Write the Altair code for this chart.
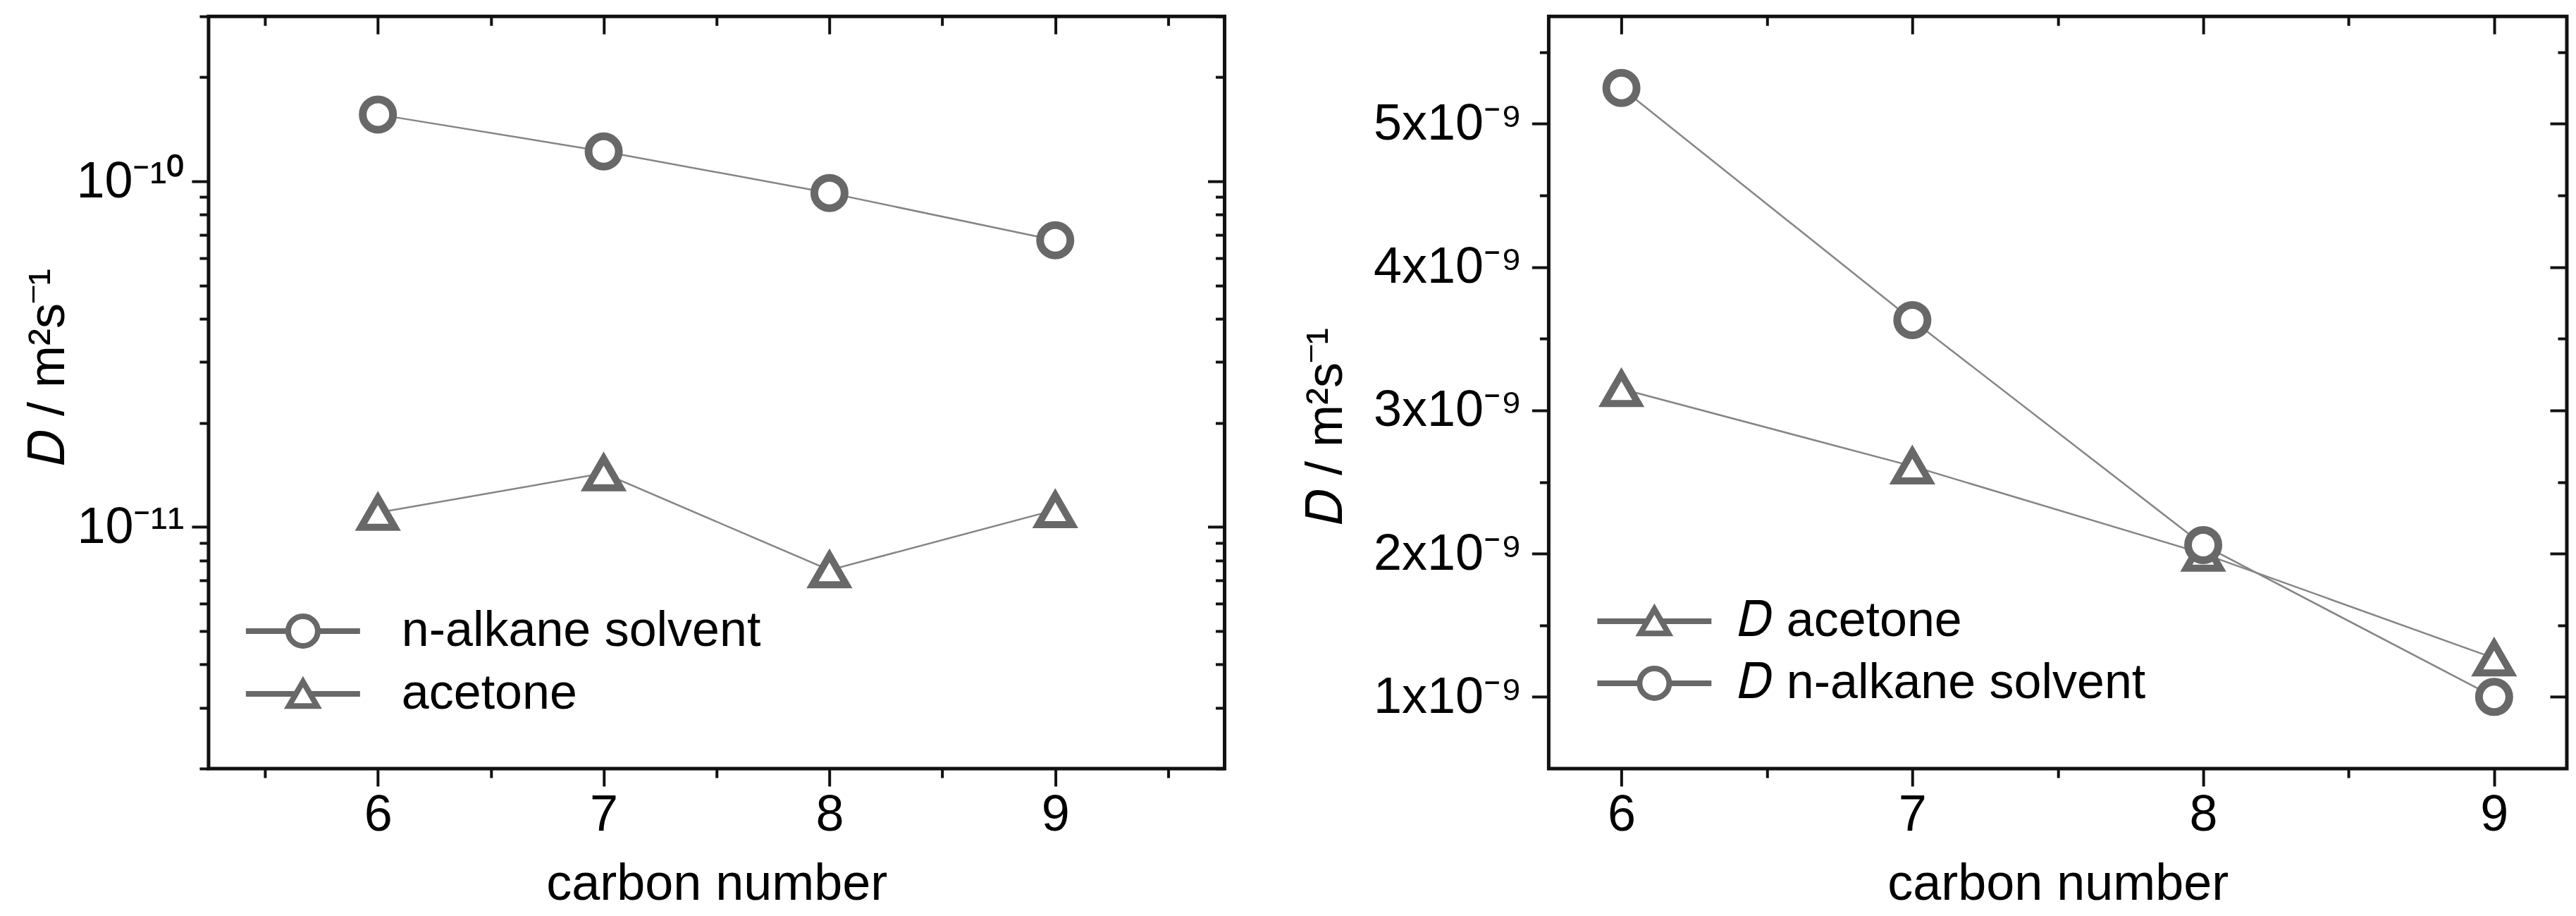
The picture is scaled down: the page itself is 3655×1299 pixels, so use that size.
import altair as alt
import pandas as pd

# ---------------- data ----------------
carbon = [6, 7, 8, 9]

left_alkane = [1.56e-10, 1.22e-10, 9.25e-11, 6.75e-11]
left_acetone = [1.10e-11, 1.43e-11, 7.5e-12, 1.12e-11]

right_acetone = [3.15e-9, 2.61e-9, 2.00e-9, 1.27e-9]
right_alkane = [5.25e-9, 3.63e-9, 2.06e-9, 1.00e-9]

left_names = ["n-alkane solvent", "acetone"]
right_names = ["𝐷 acetone", "𝐷 n-alkane solvent"]

x_major = [6, 7, 8, 9]
x_labels = ["6", "7", "8", "9"]
left_x_ticks = [5.5, 6, 6.5, 7, 7.5, 8, 8.5, 9, 9.5]
right_x_ticks = [6, 6.5, 7, 7.5, 8, 8.5, 9]

left_y_ticks = [2e-12, 3e-12, 4e-12, 5e-12, 6e-12, 7e-12, 8e-12, 9e-12,
                1e-11, 2e-11, 3e-11, 4e-11, 5e-11, 6e-11, 7e-11, 8e-11, 9e-11,
                1e-10, 2e-10, 3e-10]
left_y_major = [1e-11, 1e-10]
left_y_labels = ["10⁻¹¹", "10⁻¹⁰"]

right_y_ticks = [1e-9, 1.5e-9, 2e-9, 2.5e-9, 3e-9, 3.5e-9, 4e-9, 4.5e-9, 5e-9, 5.5e-9]
right_y_major = [1e-9, 2e-9, 3e-9, 4e-9, 5e-9]
right_y_labels = ["1x10⁻⁹", "2x10⁻⁹", "3x10⁻⁹", "4x10⁻⁹", "5x10⁻⁹"]

x_title = "carbon number"
y_title = "𝐷   /   m²s⁻¹"

# ---------------- styling ----------------
FONT = "Liberation Sans"
INK = "#111111"
MARK = "#686868"
LINE = "#858585"
FS = 72

# legend symbols: line + marker (unit = sqrt(symbolSize)/2 px)
PATH_CIRCLE = ("M-3.24,0L-0.84,0M0.84,0L3.24,0"
               "M0.84,0A0.84,0.84,0,1,1,-0.84,0A0.84,0.84,0,1,1,0.84,0Z")
PATH_TRI = ("M-3.24,0L-0.4,0M0.4,0L3.24,0"
            "M0,-0.69L-0.8,0.69L0.8,0.69Z")

X_TEST = "abs(datum.value - round(datum.value)) < 0.001"
LOGY_TEST = "abs(log(datum.value)/LN10 - round(log(datum.value)/LN10)) < 0.001"
LINY_TEST = "abs(datum.value*1e9 - round(datum.value*1e9)) < 0.001"


def label_expr(values, labels):
    e = ""
    for v, lab in zip(values, labels):
        e += f"abs(datum.value - {v!r}) < {abs(v) * 1e-6!r} ? '{lab}' : "
    return e + "''"


def cond(test, major, minor):
    return {"condition": {"test": test, "value": major}, "value": minor}


def make_df(first_vals, second_vals, names, first_marker, second_marker):
    return pd.DataFrame({
        "carbon": carbon + carbon,
        "D": first_vals + second_vals,
        "series": [names[0]] * 4 + [names[1]] * 4,
        "marker": [first_marker] * 4 + [second_marker] * 4,
    })


def panel(df, names, paths, x_dom, x_ticks, y_scale, y_ticks, y_major, y_labels,
          y_test, y_label_pad, title_x, title_y, leg_x, leg_y, leg_off, leg_pad,
          width, height):
    xs = alt.Scale(domain=x_dom, nice=False, zero=False)
    base = alt.Chart(df)

    x_main = alt.X("carbon:Q", scale=xs, axis=alt.Axis(
        orient="bottom", values=x_ticks, labelExpr=label_expr(x_major, x_labels),
        labelOverlap=False, labelFlush=False, labelLimit=1000,
        tickSize=cond(X_TEST, 25, 13), tickWidth=4, tickColor=INK,
        domain=False, grid=False,
        labelFont=FONT, labelFontSize=cond(X_TEST, FS, 0), labelColor="black",
        labelPadding=6,
        title=x_title, titleFont=FONT, titleFontSize=FS, titleFontWeight="normal",
        titleColor="black", titleBaseline="alphabetic", titleY=186))
    y_main = alt.Y("D:Q", scale=y_scale, axis=alt.Axis(
        orient="left", values=y_ticks, labelExpr=label_expr(y_major, y_labels),
        labelOverlap=False, labelFlush=False, labelLimit=1000,
        tickSize=cond(y_test, 24, 13), tickWidth=4, tickColor=INK,
        domain=False, grid=False,
        labelFont=FONT, labelFontSize=cond(y_test, FS, 0), labelColor="black",
        labelPadding=y_label_pad,
        title=y_title, titleFont=FONT, titleFontSize=FS, titleFontWeight="normal",
        titleColor="black", titleAngle=270, titleBaseline="alphabetic",
        titleAlign="center", titleX=title_x, titleY=title_y, titleLimit=2000))
    x_top = alt.X("carbon:Q", scale=xs, axis=alt.Axis(
        orient="top", values=x_ticks, labels=False, title=None, domain=False,
        grid=False, tickSize=cond(X_TEST, -25, -13), tickWidth=4, tickColor=INK))
    y_right = alt.Y("D:Q", scale=y_scale, axis=alt.Axis(
        orient="right", values=y_ticks, labels=False, title=None, domain=False,
        grid=False, tickSize=cond(y_test, -24, -13), tickWidth=4, tickColor=INK))
    x_plain = alt.X("carbon:Q", scale=xs, axis=None)
    y_plain = alt.Y("D:Q", scale=y_scale, axis=None)

    lines = base.mark_line(color=LINE, strokeWidth=2.5).encode(
        x=x_main, y=y_main, detail="series:N")
    tri = base.transform_filter(alt.datum.marker == "triangle").mark_point(
        shape="triangle-up", size=2300, fill="white", stroke=MARK,
        strokeWidth=10, opacity=1).encode(x=x_plain, y=y_plain)
    circ = base.transform_filter(alt.datum.marker == "circle").mark_point(
        shape="circle", size=1850, fill="white", stroke=MARK,
        strokeWidth=11, opacity=1).encode(x=x_plain, y=y_plain)
    leg = base.mark_point(opacity=0, filled=False, color=MARK, strokeWidth=8).encode(
        x=x_top, y=y_right,
        shape=alt.Shape("series:N", scale=alt.Scale(domain=names, range=paths),
                        legend=alt.Legend(
                            orient="none", legendX=leg_x, legendY=leg_y, title=None,
                            padding=0, symbolSize=2500, symbolStrokeWidth=8,
                            symbolStrokeColor=MARK, symbolFillColor="white",
                            symbolOpacity=1, labelFont=FONT, labelFontSize=70,
                            labelColor="black", labelOffset=leg_off,
                            rowPadding=leg_pad, labelLimit=2000)))
    return alt.layer(lines, tri, circ, leg).resolve_axis(
        x="independent", y="independent").properties(width=width, height=height)


df_left = make_df(left_alkane, left_acetone, left_names, "circle", "triangle")
df_right = make_df(right_acetone, right_alkane, right_names, "triangle", "circle")

left = panel(df_left, left_names, [PATH_CIRCLE, PATH_TRI], [5.25, 9.75], left_x_ticks,
             alt.Scale(type="log", domain=[2e-12, 3e-10], nice=False),
             left_y_ticks, left_y_major, left_y_labels, LOGY_TEST, 11,
             -205, 497, 99, 837, 105, 17, 1442, 1067)
right = panel(df_right, right_names, [PATH_TRI, PATH_CIRCLE], [5.75, 9.25], right_x_ticks,
              alt.Scale(type="linear", domain=[0.5e-9, 5.75e-9], nice=False, zero=False),
              right_y_ticks, right_y_major, right_y_labels, LINY_TEST, 14,
              -294, 581, 115, 823, 84, 16, 1445, 1067)

chart = alt.hconcat(left, right, spacing=100).resolve_scale(
    shape="independent").resolve_legend(shape="independent").properties(
    padding={"left": 22, "top": 10, "right": 0, "bottom": 0}
).configure_view(stroke=INK, strokeWidth=5)

chart.save("out.html", embed_options={"renderer": "svg", "actions": False})
